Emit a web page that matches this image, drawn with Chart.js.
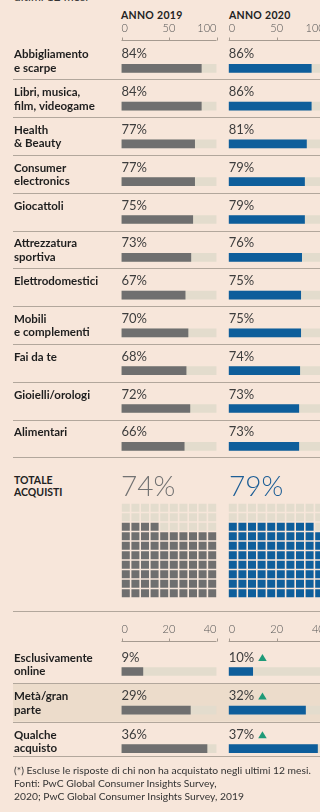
<!DOCTYPE html>
<html lang="it">
<head>
<meta charset="utf-8">
<title>Acquisti online per categoria</title>
<script src="https://cdn.jsdelivr.net/npm/chart.js@4"></script>
<style>
  html, body { margin: 0; padding: 0; }
  body {
    width: 320px; height: 812px; overflow: hidden; position: relative;
    background: #f7e6da; color: #222;
    font-family: Lato, "Liberation Sans", sans-serif;
  }
  canvas, .txt { position: absolute; }
  .sub { font-size: 12px; line-height: 12px; color: #333; }
  .head { font-size: 10.5px; line-height: 12px; font-weight: bold; letter-spacing: 0.3px; }
  .totale { font-size: 10.5px; line-height: 12px; font-weight: bold; }
  .big { font-size: 28px; line-height: 26px; font-weight: 300; }
  .rule { height: 1px; background: #b2a79c; }
  .note { font-size: 10.3px; line-height: 13px; color: #333; }
</style>
</head>
<body>

<div class="txt sub" style="left:14px; top:-9px">ultimi 12 mesi</div>
<div class="txt head" style="left:121px; top:9px">ANNO 2019</div>
<div class="txt head" style="left:229px; top:9px">ANNO 2020</div>

<canvas id="categorie2019" width="210" height="470" style="left:13px; top:0"></canvas>
<canvas id="categorie2020" width="110" height="470" style="left:223px; top:0"></canvas>

<div class="txt totale" style="left:14px; top:474px">TOTALE<br>ACQUISTI</div>
<div id="totale2019" class="txt big" style="left:121px; top:472px; color:#727272"></div>
<div id="totale2020" class="txt big" style="left:229px; top:472px; color:#1d5e96"></div>
<canvas id="waffle2019" width="96" height="95" style="left:121px; top:503px"></canvas>
<canvas id="waffle2020" width="96" height="95" style="left:228px; top:503px"></canvas>

<div class="txt rule" style="left:13px; top:611px; width:320px"></div>

<canvas id="frequenza2019" width="210" height="170" style="left:13px; top:600px"></canvas>
<canvas id="frequenza2020" width="110" height="170" style="left:223px; top:600px"></canvas>

<div class="txt note" style="left:14px; top:764px">(*) Escluse le risposte di chi non ha acquistato negli ultimi 12 mesi.<br>Fonti: PwC Global Consumer Insights Survey,<br>2020; PwC Global Consumer Insights Survey, 2019</div>

<script>
// Quota di chi ha acquistato online, per categoria
var categorie = [
    ['Abbigliamento', 'e scarpe'],
    ['Libri, musica,', 'film, videogame'],
    ['Health', '& Beauty'],
    ['Consumer', 'electronics'],
    ['Giocattoli'],
    ['Attrezzatura', 'sportiva'],
    ['Elettrodomestici'],
    ['Mobili', 'e complementi'],
    ['Fai da te'],
    ['Gioielli/orologi'],
    ['Alimentari']
];
var categorie2019 = [84, 84, 77, 77, 75, 73, 67, 70, 68, 72, 66];
var categorie2020 = [86, 86, 81, 79, 79, 76, 75, 75, 74, 73, 73];
var tickCategorie = [0, 50, 100];

// Totale acquisti
var totale2019 = 74;
var totale2020 = 79;

// Frequenza degli acquisti online
var frequenze = [
    ['Esclusivamente', 'online'],
    ['Metà/gran', 'parte'],
    ['Qualche', 'acquisto']
];
var frequenze2019 = [9, 29, 36];
var frequenze2020 = [10, 32, 37];
var tickFrequenze = [0, 20, 40];
var frequenzeInCrescita = [true, true, true];

var GRIGIO = '#6f6f6f';
var BLU = '#0e5e9b';
var TRACCIA = '#e3dccd';
var EVIDENZA = '#ecdccb';
var DIVISORE = '#b2a79c';
var VERDE = '#1e9a78';

// Disegna asse in alto, valori, divisori ed etichette delle righe
var pluginRighe = {
    id: 'righe',
    beforeDatasetsDraw: function (chart, args, opt) {
        if (opt.evidenzia == null) return;
        var ctx = chart.ctx;
        var c = chart.scales.y.getPixelForValue(opt.evidenzia);
        ctx.save();
        ctx.fillStyle = EVIDENZA;
        ctx.fillRect(0, c - opt.sopra, chart.width, opt.sopra + opt.sotto);
        ctx.restore();
    },
    afterDatasetsDraw: function (chart, args, opt) {
        var ctx = chart.ctx;
        var x = chart.scales.x;
        var y = chart.scales.y;
        var valori = chart.data.datasets[0].data;
        ctx.save();

        // asse orizzontale con tacche
        var ya = opt.asse + 0.5;
        ctx.strokeStyle = '#a59a90';
        ctx.lineWidth = 1;
        ctx.beginPath();
        ctx.moveTo(x.left, ya);
        ctx.lineTo(x.right, ya);
        opt.ticks.forEach(function (v) {
            var px = Math.round(x.getPixelForValue(v)) + 0.5;
            ctx.moveTo(px, ya);
            ctx.lineTo(px, ya - 3);
        });
        ctx.stroke();

        ctx.fillStyle = '#555';
        ctx.font = '300 11px Lato';
        ctx.textBaseline = 'alphabetic';
        opt.ticks.forEach(function (v, i) {
            var px = x.getPixelForValue(v);
            ctx.textAlign = i === 0 ? 'left' : (i === opt.ticks.length - 1 ? 'right' : 'center');
            ctx.fillText(String(v), px, opt.asse - 8.5);
        });

        valori.forEach(function (v, i) {
            var c = y.getPixelForValue(i);
            var testo = v + '%';

            // valore sopra la barra
            ctx.fillStyle = '#3d3d3d';
            ctx.font = '13px Lato';
            ctx.textAlign = 'left';
            ctx.fillText(testo, x.left, c - 10);

            if (opt.crescita && opt.crescita[i]) {
                var tx = x.left + ctx.measureText(testo).width + 4;
                var ty = c - 10.5;
                ctx.fillStyle = VERDE;
                ctx.beginPath();
                ctx.moveTo(tx, ty);
                ctx.lineTo(tx + 8.5, ty);
                ctx.lineTo(tx + 4.25, ty - 7);
                ctx.closePath();
                ctx.fill();
            }

            // divisore sotto la riga (l'ultimo è più vicino alla barra)
            var scarto = (i === valori.length - 1 && opt.sottoUltimo) ? opt.sottoUltimo : opt.sotto;
            var yd = Math.round(c + scarto) + 0.5;
            ctx.strokeStyle = DIVISORE;
            ctx.beginPath();
            ctx.moveTo(0, yd);
            ctx.lineTo(chart.width, yd);
            ctx.stroke();

            // nome della riga a sinistra
            if (opt.etichette) {
                ctx.fillStyle = '#1e1e1e';
                ctx.font = 'bold 11.5px Lato';
                chart.data.labels[i].forEach(function (riga, k) {
                    ctx.fillText(riga, 1, c - 10 + k * 13.5);
                });
            }
        });
        ctx.restore();
    }
};

function creaBarre(id, etichette, valori, colore, opzioni) {
    var max = opzioni.ticks[opzioni.ticks.length - 1];
    var traccia = etichette.map(function () { return max; });

    return new Chart(document.getElementById(id), {
        type: 'bar',
        data: {
            labels: etichette,
            datasets: [
                { data: valori, backgroundColor: colore, order: 1 },
                { data: traccia, backgroundColor: TRACCIA, order: 2 }
            ]
        },
        options: {
            indexAxis: 'y',
            responsive: false,
            animation: false,
            events: [],
            datasets: { bar: { grouped: false, barThickness: 8, borderWidth: 0 } },
            layout: { padding: opzioni.padding, autoPadding: false },
            scales: {
                x: { display: false, min: 0, max: max },
                y: { display: false }
            },
            plugins: {
                legend: { display: false },
                tooltip: { enabled: false },
                righe: opzioni
            }
        },
        plugins: [pluginRighe]
    });
}

// celle del waffle: si riempiono dal basso, da sinistra a destra
function celleWaffle(totale, piene) {
    var celle = [];
    for (var i = 0; i < 100; i++) {
        if ((i < totale) === piene) {
            celle.push({ x: i % 10, y: Math.floor(i / 10) });
        }
    }
    return celle;
}

function creaWaffle(id, totale, colore) {
    var stile = { pointStyle: 'rect', pointRadius: 5.66, pointBorderWidth: 0, clip: false };
    return new Chart(document.getElementById(id), {
        type: 'scatter',
        data: {
            datasets: [
                Object.assign({ data: celleWaffle(totale, true), pointBackgroundColor: colore }, stile),
                Object.assign({ data: celleWaffle(totale, false), pointBackgroundColor: TRACCIA }, stile)
            ]
        },
        options: {
            responsive: false,
            animation: false,
            events: [],
            layout: { padding: 0, autoPadding: false },
            scales: {
                x: { display: false, min: -0.5, max: 9.5 },
                y: { display: false, min: -0.5, max: 9.5 }
            },
            plugins: { legend: { display: false }, tooltip: { enabled: false } }
        }
    });
}

creaBarre('categorie2019', categorie, categorie2019, GRIGIO, {
    ticks: tickCategorie, asse: 40, sotto: 11, etichette: true,
    padding: { left: 108.5, right: 6.5, top: 49.4, bottom: 4.8 }
});
creaBarre('categorie2020', categorie, categorie2020, BLU, {
    ticks: tickCategorie, asse: 40, sotto: 11,
    padding: { left: 5.7, right: 8.3, top: 49.4, bottom: 4.8 }
});

document.getElementById('totale2019').textContent = totale2019 + '%';
document.getElementById('totale2020').textContent = totale2020 + '%';
creaWaffle('waffle2019', totale2019, GRIGIO);
creaWaffle('waffle2020', totale2020, BLU);

creaBarre('frequenza2019', frequenze, frequenze2019, GRIGIO, {
    ticks: tickFrequenze, asse: 41, sotto: 11.5, sottoUltimo: 7.5, sopra: 27, evidenzia: 1, etichette: true,
    padding: { left: 108.5, right: 6.5, top: 52.2, bottom: 2 }
});
creaBarre('frequenza2020', frequenze, frequenze2020, BLU, {
    ticks: tickFrequenze, asse: 41, sotto: 11.5, sottoUltimo: 7.5, sopra: 27, evidenzia: 1, crescita: frequenzeInCrescita,
    padding: { left: 5.7, right: 8.3, top: 52.2, bottom: 2 }
});
</script>
</body>
</html>
